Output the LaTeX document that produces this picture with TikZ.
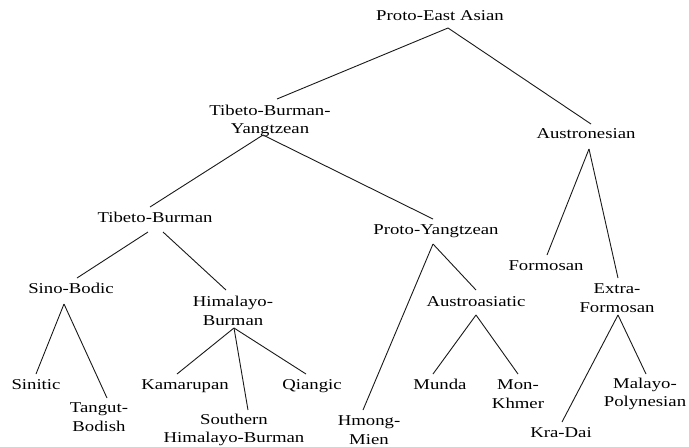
\documentclass[tikz,border=0pt]{standalone}
\usepackage{fontspec}
\setmainfont[FakeStretch=1.25]{Liberation Serif}
\begin{document}
\begin{tikzpicture}[x=1pt,y=-1pt,
  lbl/.style={inner sep=0pt,anchor=base,text=black,font=\fontsize{15}{18.5}\selectfont},
  ml/.style={inner sep=0pt,anchor=center,align=center,text=black,font=\fontsize{15}{18.5}\selectfont},
  edge/.style={draw=black!90,line width=0.9pt}]
\useasboundingbox (0,0) rectangle (689,447);
% nodes
\node[lbl] (pea) at (440,20) {Proto-East Asian};
\node[ml]  (tby) at (270,121) {Tibeto-Burman-\\Yangtzean};
\node[lbl] (aus) at (586,138) {Austronesian};
\node[lbl] (tb)  at (155,222) {Tibeto-Burman};
\node[lbl] (py)  at (436,234) {Proto-Yangtzean};
\node[lbl] (for) at (546,270) {Formosan};
\node[ml]  (ef)  at (617,298) {Extra-\\Formosan};
\node[lbl] (sb)  at (71,293) {Sino-Bodic};
\node[ml]  (hb)  at (233,311) {Himalayo-\\Burman};
\node[lbl] (aa)  at (476,306) {Austroasiatic};
\node[lbl] (sin) at (36,389) {Sinitic};
\node[ml]  (tan) at (99,417) {Tangut-\\Bodish};
\node[lbl] (kam) at (185,389) {Kamarupan};
\node[ml]  (shb) at (234,430) {Southern\\Himalayo-Burman};
\node[lbl] (qia) at (312,389) {Qiangic};
\node[ml]  (hm)  at (369,430) {Hmong-\\Mien};
\node[lbl] (mun) at (440,389) {Munda};
\node[ml]  (mk)  at (518,394) {Mon-\\Khmer};
\node[lbl] (kd)  at (561,437) {Kra-Dai};
\node[ml]  (mp)  at (645,394) {Malayo-\\Polynesian};
% connectors
\draw[edge] ([shift={(8,8)}]pea.base) -- ([shift={(7,-22)}]tby.center);
\draw[edge] ([shift={(8,8)}]pea.base) -- ([shift={(5,-14)}]aus.base);
\draw[edge] ([shift={(-7,14)}]tby.center) -- ([shift={(-5,-15)}]tb.base);
\draw[edge] ([shift={(-7,14)}]tby.center) -- ([shift={(-3,-15)}]py.base);
\draw[edge] ([shift={(3,11)}]aus.base) -- ([shift={(1,-15)}]for.base);
\draw[edge] ([shift={(3,11)}]aus.base) -- ([shift={(1,-20)}]ef.center);
\draw[edge] ([shift={(-7,10)}]tb.base) -- ([shift={(6,-15)}]sb.base);
\draw[edge] ([shift={(8,10)}]tb.base) -- ([shift={(-7,-21)}]hb.center);
\draw[edge] ([shift={(-7,11)}]sb.base) -- ([shift={(0,-15)}]sin.base);
\draw[edge] ([shift={(-7,11)}]sb.base) -- ([shift={(8,-19)}]tan.center);
\draw[edge] ([shift={(1,17)}]hb.center) -- ([shift={(-8,-15)}]kam.base);
\draw[edge] ([shift={(1,17)}]hb.center) -- ([shift={(14,-20)}]shb.center);
\draw[edge] ([shift={(1,17)}]hb.center) -- ([shift={(-6,-15)}]qia.base);
\draw[edge] ([shift={(-3,10)}]py.base) -- ([shift={(-6,-20)}]hm.center);
\draw[edge] ([shift={(-3,10)}]py.base) -- ([shift={(0,-16)}]aa.base);
\draw[edge] ([shift={(0,9)}]aa.base) -- ([shift={(-7,-15)}]mun.base);
\draw[edge] ([shift={(0,9)}]aa.base) -- ([shift={(0,-20)}]mk.center);
\draw[edge] ([shift={(1,17)}]ef.center) -- ([shift={(1,-15)}]kd.base);
\draw[edge] ([shift={(1,17)}]ef.center) -- ([shift={(1,-20)}]mp.center);
\end{tikzpicture}
\end{document}
